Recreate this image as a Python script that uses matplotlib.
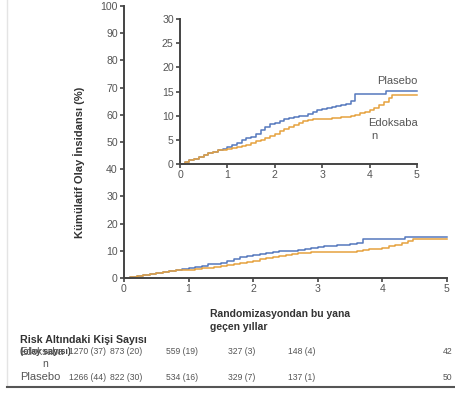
import matplotlib
matplotlib.use("Agg")
import matplotlib.pyplot as plt
from matplotlib.lines import Line2D

plt.rcParams['font.family'] = ['Liberation Sans', 'DejaVu Sans']

# ---- data ----
plasebo_t = [0.0, 0.1, 0.2, 0.3, 0.4, 0.5, 0.6, 0.7, 0.8, 0.9, 1.0, 1.1, 1.2, 1.3, 1.4,
             1.5, 1.6, 1.7, 1.8, 1.9, 2.0, 2.1, 2.2, 2.3, 2.4, 2.5, 2.6, 2.7, 2.8, 2.9,
             3.0, 3.1, 3.2, 3.3, 3.4, 3.5, 3.6, 3.7, 4.35, 5.0]
plasebo_y = [0.0, 0.4, 0.8, 1.1, 1.5, 1.8, 2.2, 2.5, 2.8, 3.2, 3.5, 3.9, 4.4, 5.0, 5.3,
             5.6, 6.2, 7.0, 7.7, 8.2, 8.4, 8.8, 9.3, 9.6, 9.8, 9.9, 10.0, 10.3, 10.7, 11.2,
             11.4, 11.6, 11.8, 12.0, 12.2, 12.4, 13.0, 14.4, 15.2, 15.2]
edoks_t = [0.0, 0.1, 0.2, 0.3, 0.4, 0.5, 0.6, 0.7, 0.8, 0.9, 1.0, 1.1, 1.2, 1.3, 1.4,
           1.5, 1.6, 1.7, 1.8, 1.9, 2.0, 2.1, 2.2, 2.3, 2.4, 2.5, 2.6, 2.7, 2.8, 2.9,
           3.0, 3.2, 3.4, 3.6, 3.7, 3.8, 3.9, 4.0, 4.1, 4.2, 4.3, 4.4, 4.47, 5.0]
edoks_y = [0.0, 0.4, 0.8, 1.1, 1.5, 1.8, 2.2, 2.5, 2.8, 3.0, 3.1, 3.3, 3.5, 3.7, 4.0,
           4.4, 4.7, 5.0, 5.4, 5.8, 6.3, 6.9, 7.3, 7.6, 8.1, 8.5, 8.9, 9.2, 9.3, 9.4,
           9.4, 9.5, 9.7, 9.9, 10.2, 10.5, 10.8, 11.2, 11.6, 12.2, 12.8, 13.6, 14.3, 14.3]

x_ticks = [0, 1, 2, 3, 4, 5]
main_y_ticks = [0, 10, 20, 30, 40, 50, 60, 70, 80, 90, 100]
inset_y_ticks = [0, 5, 10, 15, 20, 25, 30]

risk_edoks = ["1270 (37)", "873 (20)", "559 (19)", "327 (3)", "148 (4)", "42"]
risk_plasebo = ["1266 (44)", "822 (30)", "534 (16)", "329 (7)", "137 (1)", "50"]
risk_col_x = [69, 110, 166, 228, 288, 443]

BLUE = "#5578BD"
ORANGE = "#E6A23E"
AXC = "#444444"
TXT = "#555555"

W, H = 455, 394
fig = plt.figure(figsize=(W / 100, H / 100), dpi=100)


def fx(px):
    return px / W


def fy(py):
    return 1 - py / H


def style(ax, yt, ylim):
    ax.set_xlim(0, 5)
    ax.set_ylim(*ylim)
    ax.set_xticks(x_ticks)
    ax.set_yticks(yt)
    for s in ['top', 'right']:
        ax.spines[s].set_visible(False)
    for s in ['left', 'bottom']:
        ax.spines[s].set_color(AXC)
        ax.spines[s].set_linewidth(1.4)
    ax.tick_params(direction='out', length=3, width=1.2, color=AXC,
                   labelsize=7.6, labelcolor=TXT, pad=1.5)
    ax.patch.set_alpha(0)
    ax.margins(0)


# main axes
ax = fig.add_axes([fx(124), fy(278), fx(447) - fx(124), fy(6) - fy(278)])
ax.step(plasebo_t, plasebo_y, where='post', color=BLUE, lw=1.1, clip_on=False)
ax.step(edoks_t, edoks_y, where='post', color=ORANGE, lw=1.1, clip_on=False)
style(ax, main_y_ticks, (0, 100))

# inset axes
ins = fig.add_axes([fx(180), fy(164), fx(417) - fx(180), fy(19) - fy(164)])
ins.step(plasebo_t, plasebo_y, where='post', color=BLUE, lw=1.1, clip_on=False)
ins.step(edoks_t, edoks_y, where='post', color=ORANGE, lw=1.1, clip_on=False)
style(ins, inset_y_ticks, (0, 30))
ins.text(5.02, 17.2, "Plasebo", fontsize=8, color=TXT, ha='right', va='center')
ins.text(3.97, 8.5, "Edoksaba", fontsize=8, color=TXT, ha='left', va='center')
ins.text(4.03, 5.8, "n", fontsize=8, color=TXT, ha='left', va='center')

# y label
fig.text(fx(79), fy(162), "Kümülatif Olay İnsidansı (%)", rotation=90, fontsize=8,
         fontweight='bold', color="#333333", ha='center', va='center')

# x title
fig.text(fx(210), fy(314), "Randomizasyondan bu yana", fontsize=7.5, fontweight='bold',
         color="#333333", ha='left', va='center')
fig.text(fx(210), fy(327), "geçen yıllar", fontsize=7.5, fontweight='bold',
         color="#333333", ha='left', va='center')

# risk table
fig.text(fx(20), fy(340), "Risk Altındaki Kişi Sayısı", fontsize=7.7, fontweight='bold',
         color="#333333", ha='left', va='center')
fig.text(fx(20), fy(352), "(olay sayısı)", fontsize=6.4, fontweight='bold',
         color="#444444", ha='left', va='center')
fig.text(fx(20), fy(352), "Edoksaba", fontsize=7, color=TXT, ha='left', va='center')
fig.text(fx(45), fy(364), "n", fontsize=7.5, color=TXT, ha='center', va='center')
fig.text(fx(20), fy(377), "Plasebo", fontsize=8, color=TXT, ha='left', va='center')
for xp, a, b in zip(risk_col_x, risk_edoks, risk_plasebo):
    fig.text(fx(xp), fy(352), a, fontsize=6.2, color=TXT, ha='left', va='center')
    fig.text(fx(xp), fy(377), b, fontsize=6.2, color=TXT, ha='left', va='center')

# frame lines
fig.add_artist(Line2D([fx(7), fx(7)], [fy(0), fy(386)], color="#e4e4e4", lw=1.0))
fig.add_artist(Line2D([fx(7), 1], [fy(387), fy(387)], color="#555555", lw=1.5))

fig.savefig("out.png", dpi=100)
